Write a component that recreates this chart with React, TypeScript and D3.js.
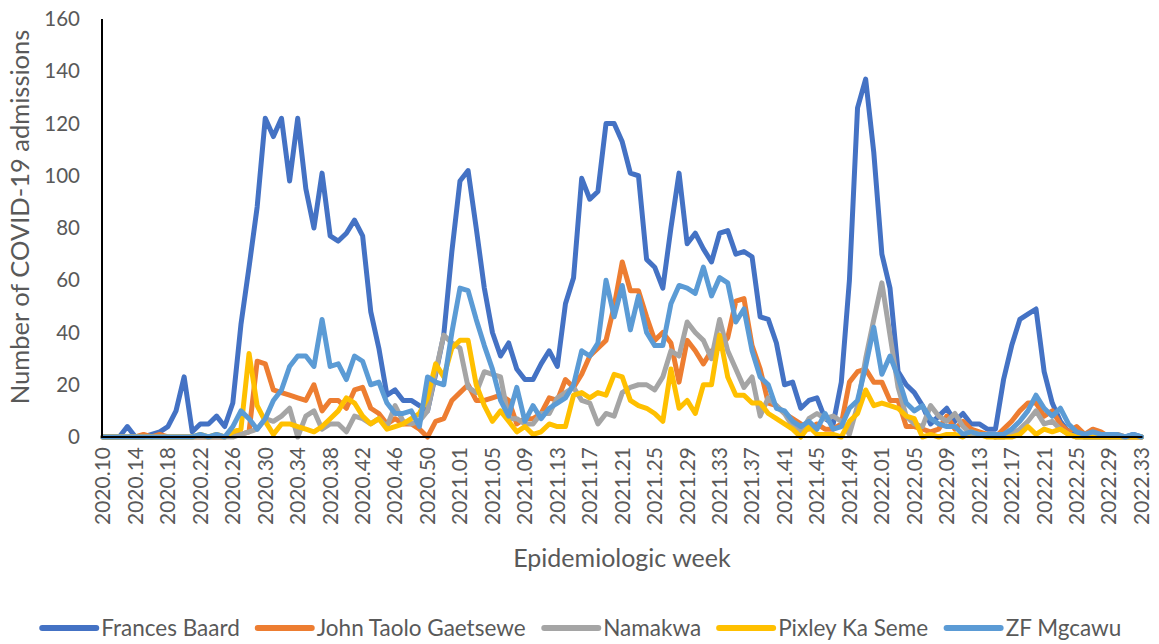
import { useMemo } from "react";
import * as d3 from "d3";

// epidemiologic weeks 2020.10 .. 2022.33
const weeks2020 = d3.range(10, 54);
const weeks2021 = d3.range(1, 53);
const weeks2022 = d3.range(1, 34);
const weeks: string[] = [
  ...weeks2020.map(w => `2020.${String(w).padStart(2, "0")}`),
  ...weeks2021.map(w => `2021.${String(w).padStart(2, "0")}`),
  ...weeks2022.map(w => `2022.${String(w).padStart(2, "0")}`),
];
const tickWeeks = weeks.filter((_, i) => i % 4 === 0);
const yTicks = [0, 20, 40, 60, 80, 100, 120, 140, 160];

const francesBaard = [
  0, 0, 0, 4, 0, 0, 1, 2, 4, 10, 23, 2, 5, 5, 8, 4, 13, 43, 65, 88, 122, 115, 122, 98, 122, 95, 80, 101, 77, 75, 78, 83, 77, 48, 34, 16, 18, 14, 14, 12, 10, 24, 39, 71,
  98, 102, 80, 57, 40, 31, 36, 26, 22, 22, 28, 33, 27, 51, 61, 99, 91, 94, 120, 120, 113, 101, 100, 68, 65, 57, 80, 101, 74, 78, 72, 67, 78, 79, 70, 71, 69, 46, 45, 36, 20, 21, 11, 14, 15, 7, 5, 21, 60, 126, 137, 109,
  70, 57, 25, 20, 17, 12, 5, 8, 11, 6, 9, 5, 5, 3, 3, 22, 35, 45, 47, 49, 25, 13, 6, 2, 1, 0, 0, 0, 0, 0, 0, 1, 0,
];
const johnTaolo = [
  0, 0, 0, 0, 0, 1, 0, 1, 0, 0, 0, 0, 0, 0, 0, 0, 1, 1, 2, 29, 28, 18, 17, 16, 15, 14, 20, 10, 14, 14, 11, 18, 19, 11, 9, 5, 7, 5, 5, 3, 0, 6, 7, 14,
  17, 20, 14, 14, 15, 16, 14, 5, 7, 7, 9, 15, 14, 22, 19, 24, 31, 34, 37, 50, 67, 56, 56, 46, 37, 40, 36, 21, 37, 33, 28, 33, 34, 38, 52, 53, 35, 26, 13, 12, 9, 7, 5, 3, 5, 3, 3, 5, 21, 25, 26, 21,
  21, 14, 14, 4, 4, 3, 2, 3, 8, 3, 6, 3, 2, 1, 0, 3, 6, 10, 13, 13, 8, 10, 5, 2, 4, 1, 3, 2, 0, 1, 0, 0, 0,
];
const namakwa = [
  0, 0, 0, 0, 0, 0, 0, 0, 0, 0, 0, 0, 0, 0, 0, 0, 0, 1, 2, 3, 7, 6, 8, 11, 0, 8, 10, 3, 5, 5, 2, 8, 7, 5, 7, 4, 12, 6, 5, 6, 10, 25, 39, 36,
  34, 19, 17, 25, 24, 23, 7, 7, 5, 5, 9, 9, 15, 17, 19, 14, 13, 5, 9, 8, 17, 19, 20, 20, 18, 23, 33, 31, 44, 40, 37, 30, 45, 33, 26, 19, 23, 8, 15, 12, 9, 4, 2, 7, 9, 7, 8, 6, 1, 12, 30, 45,
  59, 39, 19, 8, 5, 4, 12, 8, 6, 9, 4, 1, 1, 1, 0, 0, 1, 3, 6, 10, 5, 6, 3, 1, 0, 0, 0, 0, 0, 0, 0, 0, 0,
];
const pixleyKaSeme = [
  0, 0, 0, 0, 0, 0, 0, 0, 0, 0, 0, 0, 1, 0, 1, 0, 2, 3, 32, 12, 6, 1, 5, 5, 4, 3, 2, 4, 7, 10, 15, 13, 8, 5, 7, 3, 4, 5, 7, 9, 15, 28, 23, 34,
  37, 37, 20, 12, 6, 10, 6, 2, 4, 1, 2, 5, 4, 4, 16, 17, 15, 17, 16, 24, 23, 14, 12, 11, 9, 6, 26, 11, 14, 9, 20, 20, 39, 23, 16, 16, 13, 13, 9, 7, 5, 3, 0, 4, 1, 1, 1, 0, 6, 9, 18, 12,
  13, 12, 11, 8, 7, 0, 1, 0, 1, 1, 0, 2, 1, 0, 0, 0, 0, 1, 4, 1, 3, 2, 3, 1, 0, 0, 0, 0, 0, 0, 0, 0, 0,
];
const zfMgcawu = [
  0, 0, 0, 0, 0, 0, 0, 0, 0, 0, 0, 0, 1, 0, 1, 0, 4, 10, 7, 3, 7, 14, 18, 27, 31, 31, 27, 45, 27, 28, 22, 31, 29, 20, 21, 13, 9, 9, 10, 4, 23, 21, 20, 40,
  57, 56, 45, 35, 26, 14, 8, 19, 6, 12, 7, 11, 13, 15, 20, 33, 31, 36, 60, 46, 58, 41, 54, 40, 35, 35, 51, 58, 57, 55, 65, 54, 61, 59, 44, 49, 33, 23, 20, 11, 10, 6, 4, 6, 3, 9, 3, 4, 11, 14, 27, 42,
  24, 31, 23, 13, 10, 12, 7, 5, 4, 4, 1, 2, 1, 1, 1, 1, 3, 6, 10, 16, 11, 8, 11, 5, 2, 1, 2, 1, 1, 1, 0, 1, 0,
];

const seriesNames = ["Frances Baard", "John Taolo Gaetsewe", "Namakwa", "Pixley Ka Seme", "ZF Mgcawu"];
const seriesValues = [francesBaard, johnTaolo, namakwa, pixleyKaSeme, zfMgcawu];
const seriesColors = ["#4472C4", "#ED7D31", "#A5A5A5", "#FFC000", "#5B9BD5"];

const W = 1159;
const H = 644;
const FONT = "Lato, 'Open Sans', sans-serif";
const TEXT = "#595959";

export default function App() {
  const x = d3.scalePoint<string>().domain(weeks).range([103, 1141.5]);
  const y = d3.scaleLinear().domain([0, 160]).range([437, 19]);
  const line = d3
    .line<number>()
    .x((_, i) => x(weeks[i])!)
    .y(d => y(d));

  // legend layout from measured label widths
  const legend = useMemo(() => {
    const ctx = document.createElement("canvas").getContext("2d")!;
    ctx.font = `22.5px Lato`;
    const sample = 54, pad = 5, gap = 18;
    const widths = seriesNames.map(n => ctx.measureText(n).width);
    const total = d3.sum(widths) + seriesNames.length * (sample + pad) + gap * (seriesNames.length - 1);
    let cx = 582 - total / 2;
    return seriesNames.map((n, i) => {
      const item = { name: n, color: seriesColors[i], x0: cx, x1: cx + sample, tx: cx + sample + pad };
      cx += sample + pad + widths[i] + gap;
      return item;
    });
  }, []);

  const [x0, x1] = x.range();

  return (
    <svg width={W} height={H} style={{ position: "absolute", left: 0, top: 0, background: "#fff" }} fontFamily={FONT}>
      <rect width={W} height={H} fill="#fff" />

      {/* y axis labels */}
      {yTicks.map(t => (
        <text key={t} x={80} y={y(t)} dy="0.35em" textAnchor="end" fontSize={20.5} fill={TEXT}>
          {t}
        </text>
      ))}

      {/* x axis labels */}
      {tickWeeks.map(w => (
        <text
          key={w}
          transform={`translate(${x(w)},${447}) rotate(-90)`}
          dy="0.35em"
          textAnchor="end"
          fontSize={21}
          fill={TEXT}
        >
          {w}
        </text>
      ))}

      {/* series */}
      {seriesValues.map((vals, i) => (
        <path
          key={seriesNames[i]}
          d={line(vals)!}
          fill="none"
          stroke={seriesColors[i]}
          strokeWidth={5}
          strokeLinejoin="round"
          strokeLinecap="round"
        />
      ))}

      {/* axes */}
      <line x1={x0 - 1} x2={x0 - 1} y1={y(160)} y2={y(0)} stroke="#000" strokeWidth={2} />
      <line x1={x0 - 2} x2={x1 + 1} y1={y(0)} y2={y(0)} stroke="#000" strokeWidth={2} />

      {/* axis titles */}
      <text
        transform={`translate(20,${217}) rotate(-90)`}
        dy="0.35em"
        textAnchor="middle"
        fontSize={25.5}
        fill={TEXT}
      >
        Number of COVID-19 admissions
      </text>
      <text x={622} y={558} dy="0.35em" textAnchor="middle" fontSize={25} fill={TEXT}>
        Epidemiologic week
      </text>

      {/* legend */}
      {legend.map(l => (
        <g key={l.name}>
          <line x1={l.x0} x2={l.x1} y1={628} y2={628} stroke={l.color} strokeWidth={6} strokeLinecap="round" />
          <text x={l.tx} y={628} dy="0.35em" fontSize={22.5} fill={TEXT}>
            {l.name}
          </text>
        </g>
      ))}
    </svg>
  );
}
